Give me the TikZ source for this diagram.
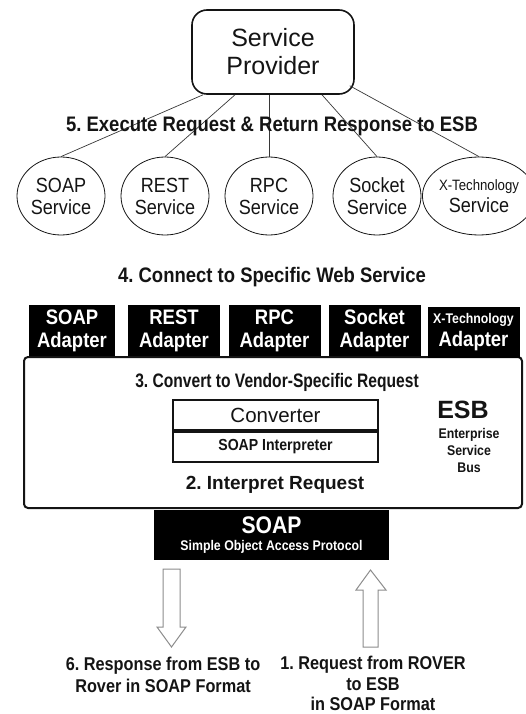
\documentclass[tikz,border=0pt]{standalone}
\usepackage{fontspec}
\setmainfont{Liberation Sans}
\newfontfamily\narrowfont{Liberation Sans}[FakeStretch=0.88]
\newfontfamily\condfont{Liberation Sans}[FakeStretch=0.8]
\usepackage{tikz}
\usetikzlibrary{positioning,calc,shapes.geometric}
\definecolor{ink}{RGB}{20,20,20}
\definecolor{arrowgray}{RGB}{140,140,140}
\newcommand{\fsz}[2]{\fontsize{#1}{#2}\selectfont}
\frenchspacing

\begin{document}
\begin{tikzpicture}[x=1pt, y=-1pt,
          provider/.style={draw=ink, line width=1.6pt, rounded corners=15pt,
                      minimum width=162pt, minimum height=84pt,
                      align=center, font=\fsz{25}{28}, text=ink},
          service/.style={draw=ink, ellipse, line width=0.8pt,
                      minimum width=88pt, minimum height=78pt, inner sep=0pt,
                      align=center, font=\narrowfont\fsz{20.5}{22}, text=ink},
          adapter/.style={fill=black, text=white, inner sep=0pt,
                      minimum width=92pt, minimum height=51pt,
                      align=center, font=\narrowfont\bfseries\fsz{21}{23}},
          steplabel/.style={anchor=base, inner sep=0pt, text=ink,
                      font=\narrowfont\bfseries\fsz{21}{23}},
          layer/.style={draw=ink, line width=2pt, inner sep=0pt,
                      minimum width=205pt, minimum height=30pt, text=ink},
          note/.style={anchor=north, inner sep=0pt, align=center, text=ink,
                      font=\narrowfont\bfseries\fsz{18.5}{22}},
          link/.style={draw=ink!85, line width=0.7pt},
          hollow/.style={draw=arrowgray, line width=1pt, fill=white}
        ]
          \useasboundingbox (0,0) rectangle (525,714);

          \node[provider] (prov) at (273,52) {Service\\Provider};
          \node[service] (soapS) at (61,196)  {SOAP\\Service};
          \node[service] (restS) at (165,196) {REST\\Service};
          \node[service] (rpcS)  at (269,196) {RPC\\Service};
          \node[service] (sockS) at (377,196) {Socket\\Service};
          \node[service, minimum width=86pt] (xS) at (479,196) {{\fsz{15}{22}X-Technology}\\Service};
          \draw[link] ($(prov.south)+(-70,0)$) -- (soapS.north);
          \draw[link] ($(prov.south)+(-38,0)$) -- (restS.north);
          \draw[link] ($(prov.south)+(-4,0)$) -- (rpcS.north);
          \draw[link] ($(prov.south)+(49,0)$) -- (sockS.north);
          \draw[link] ($(prov.south east)+(-5,-9)$) -- (xS.north);
          \node[steplabel] (exec) at (272,132) {5. Execute Request \& Return Response to ESB};
          \node[steplabel] (conn) at (272,282) {4. Connect to Specific Web Service};

          % the bus and its adapters
          \node[draw=ink, line width=2pt, rounded corners=4pt, fill=white,
                minimum width=498pt, minimum height=151pt] (esb) at (273,432.5) {};
          \node[adapter, minimum width=86pt] (soapA) at (72,330.5) {SOAP\\Adapter};
          \node[adapter] (restA) at (174,330.5)   {REST\\Adapter};
          \node[adapter] (rpcA)  at (274.5,330.5) {RPC\\Adapter};
          \node[adapter] (sockA) at (374.5,330.5) {Socket\\Adapter};
          \node[adapter] (xA)    at (473.5,332)   {{\fsz{14}{23}X-Technology}\\Adapter};
          \node[steplabel, font=\condfont\bfseries\fsz{19.5}{22}] (convL) at (277,387) {3. Convert to Vendor-Specific Request};
          \node[layer, font=\fsz{20.5}{22}] (conv) at (275.5,415) {Converter};
          \node[layer, below=0pt of conv, font=\narrowfont\bfseries\fsz{16}{18}] (interp) {SOAP Interpreter};
          \node[steplabel, font=\bfseries\fsz{19}{22}] (interpL) at (275,489) {2. Interpret Request};
          \node[steplabel, font=\bfseries\fsz{25}{28}] (esbT) at (463,418) {ESB};
          \node[inner sep=0pt, align=center, text=ink,
                font=\narrowfont\bfseries\fsz{14}{17}] (esbN) at (469,450) {Enterprise\\Service\\Bus};
          \node[fill=black, text=white, inner sep=0pt, minimum width=235pt, minimum height=50pt,
                align=center, font=\narrowfont\bfseries\fsz{14}{17}] (soap) at (271.5,535)
                {{\fsz{24}{17}SOAP}\\Simple Object Access Protocol};

          % hollow block arrows
          \draw[hollow] (163,569) -- (180,569) -- (180,627) -- (186,627) -- (171.5,647)
            -- (157,627) -- (163,627) -- cycle;
          \draw[hollow] (363,647) -- (378,647) -- (378,590) -- (386,590) -- (370.5,570)
            -- (356,590) -- (363,590) -- cycle;
          \node[note] (resp) at (163,657) {6. Response from ESB to\\Rover in SOAP Format};
          \node[note, font=\narrowfont\bfseries\fsz{18.5}{20.5}] (req) at (373,656) {1. Request from ROVER\\to ESB\\in SOAP Format};
        \end{tikzpicture}
\end{document}
